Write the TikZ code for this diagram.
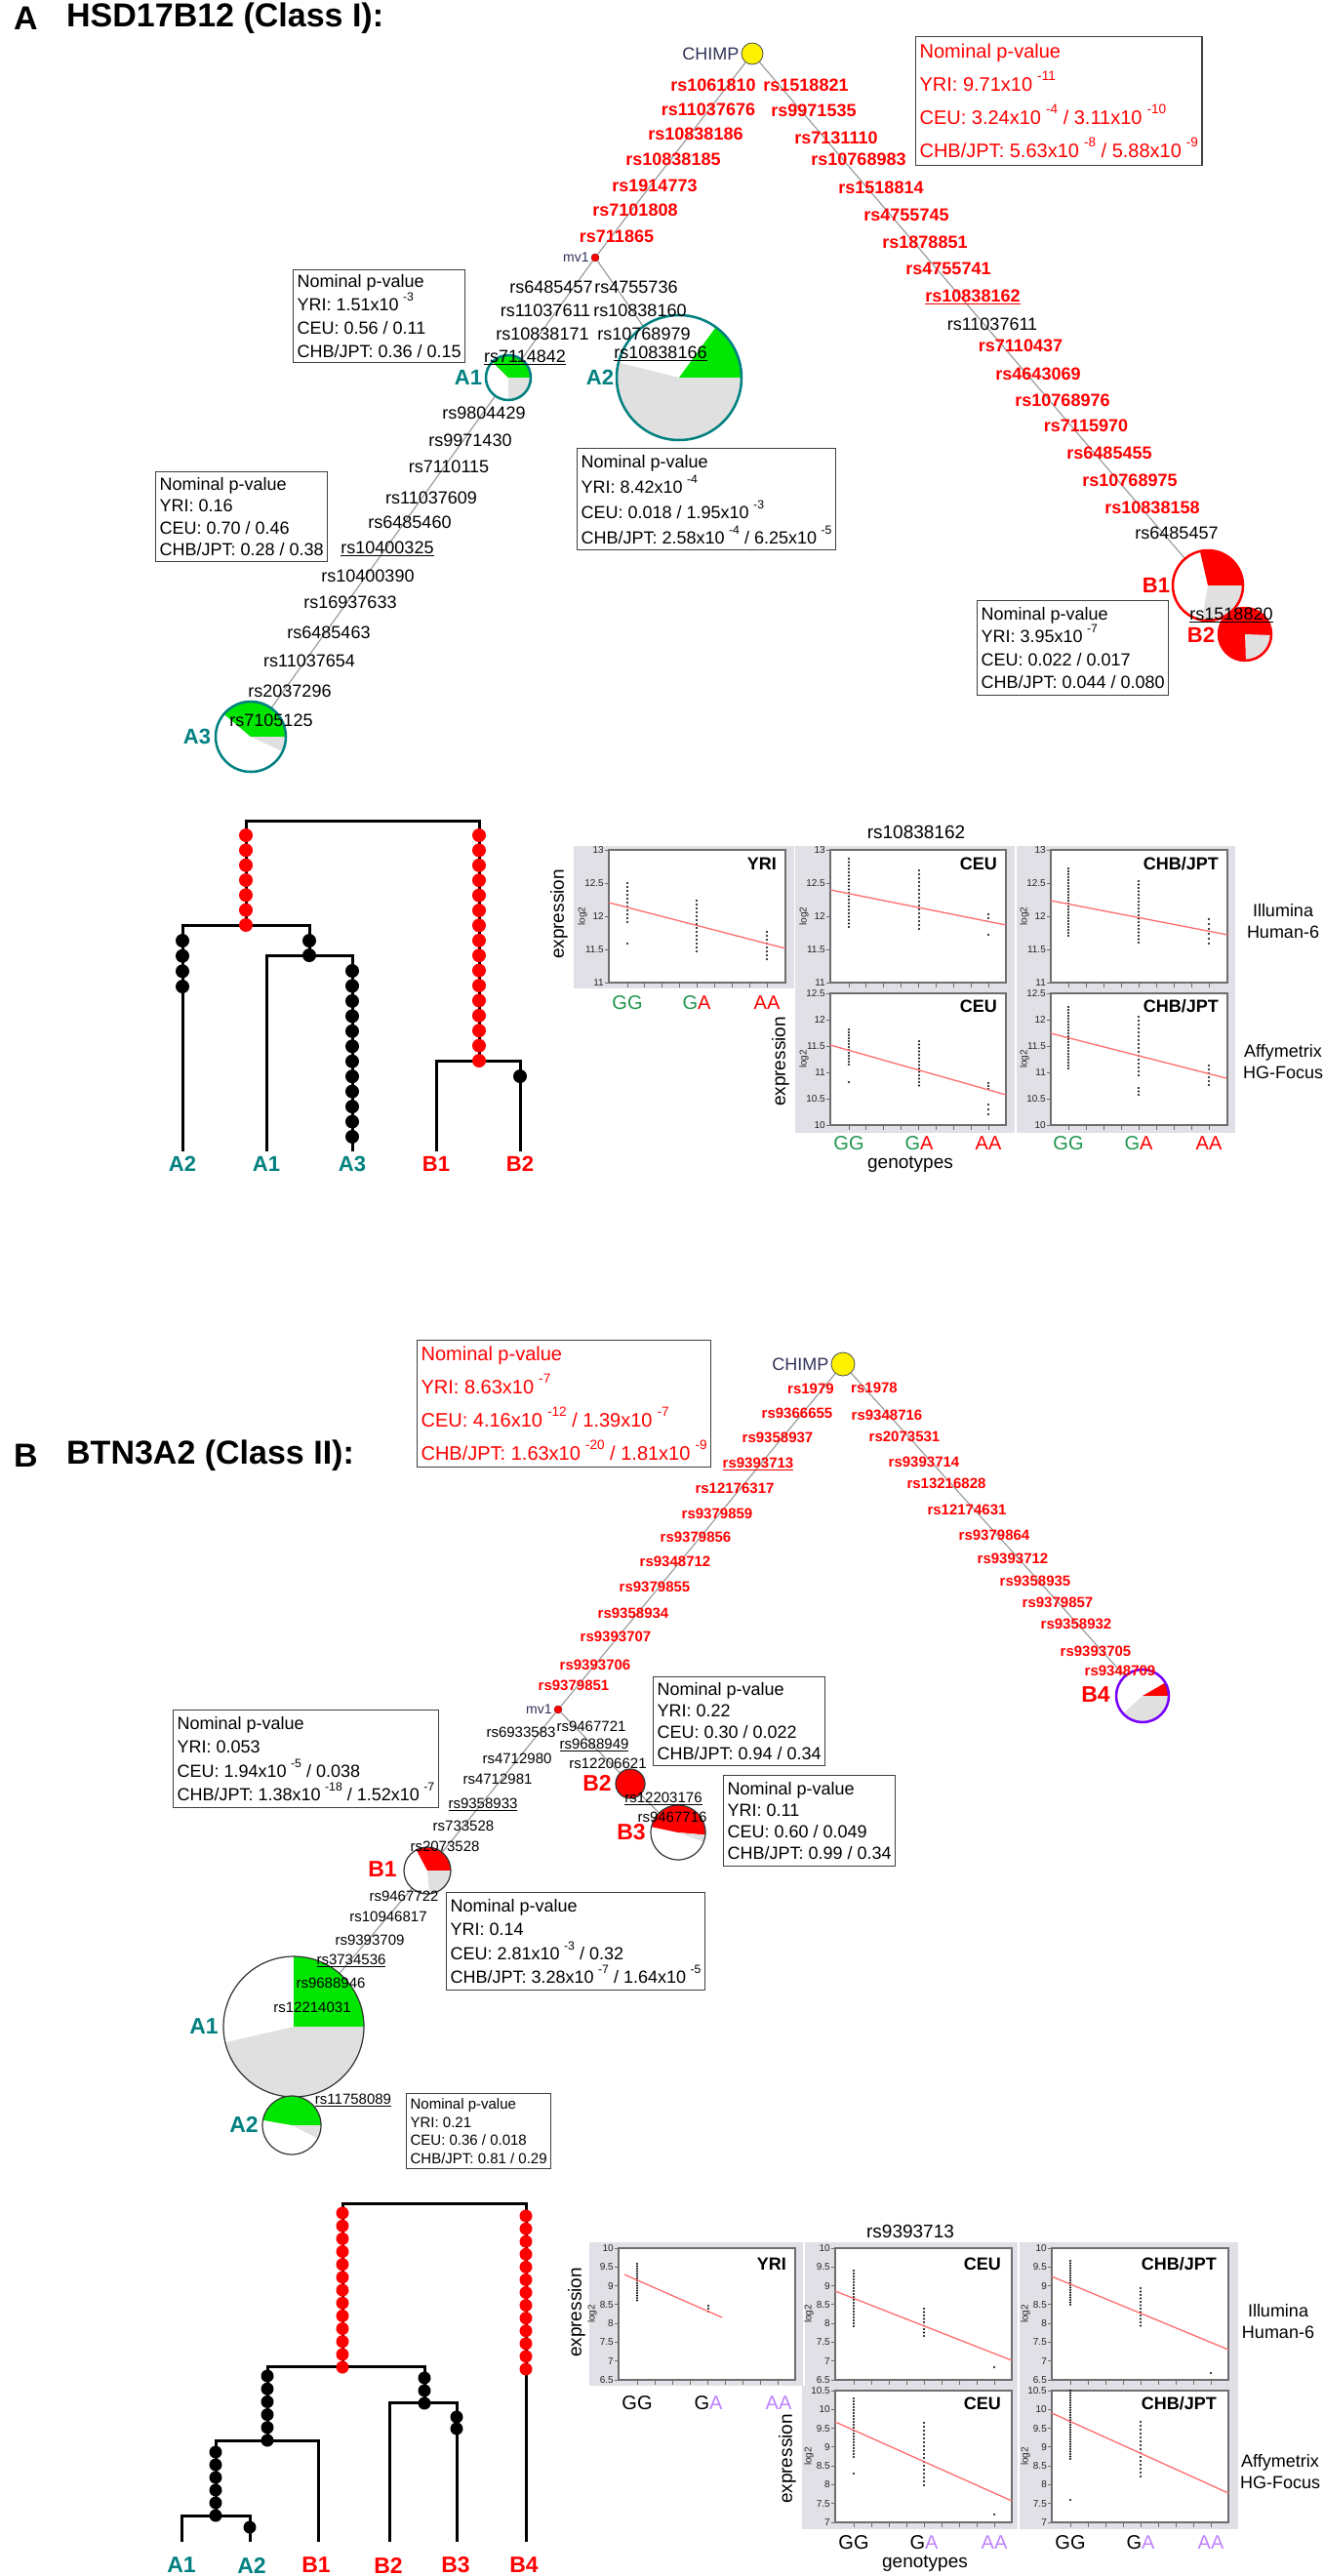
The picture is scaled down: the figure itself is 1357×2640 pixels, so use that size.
\documentclass[tikz,border=0pt]{standalone}
\usepackage{graphicx}
\usepackage{fontspec}
\setmainfont{Liberation Sans}
\definecolor{tealc}{RGB}{0,128,128}
\definecolor{pgreen}{RGB}{0,230,0}
\definecolor{pgray}{RGB}{224,224,224}
\definecolor{linkgray}{RGB}{150,150,150}
\definecolor{panelgray}{RGB}{224,224,230}
\definecolor{regline}{RGB}{255,110,110}
\definecolor{gtgreen}{RGB}{30,150,80}
\definecolor{gtpurple}{RGB}{190,130,255}
\definecolor{navytxt}{RGB}{50,50,90}
\definecolor{violetc}{RGB}{120,0,255}
\definecolor{framec}{RGB}{110,110,110}
\newcommand{\fsz}[1]{\fontsize{#1}{#1}\selectfont}
\newcommand{\pexp}[1]{\hspace{0.25em}\raisebox{0.55em}{\scalebox{0.68}{#1}}}
\newcommand{\pieslice}[5]{\fill[#1] (#2) -- ++(#3:#5) arc[start angle=#3, end angle=#4, radius=#5] -- cycle;}
\newcommand{\dotcol}[4]{\foreach \yy in {#2,#3,...,#4} \fill (#1,\yy) circle[radius=1.1];}
\newcommand{\panel}[8]{%
  \fill[panelgray] (#1,#2) rectangle (#3,#4);
  \fill[white] (#5,#6) rectangle (#7,#8);
  \draw[framec, line width=1.3] (#5,#6) rectangle (#7,#8);
  \node[ticklab, rotate=90] at ({#5-27},{(#6+#8)/2}) {log2};}
\newcommand{\xticks}[3]{\foreach \k in {0,...,8} \draw[framec, line width=0.9] ({#1+\k*#2},#3) -- ++(0,5);}
\newcommand{\yticks}[5]{\foreach \lab [count=\i from 0] in {#5} {%
  \pgfmathsetmacro{\yy}{#2+\i*(#3-#2)/#4}
  \draw[framec, line width=0.9] (#1,\yy) -- ++(-4,0);
  \node[ticklab, anchor=east] (yt\i) at ({#1-4},\yy) {\lab};}}
\newcommand{\gtA}[5]{\node[gt, text=gtgreen] (#1g) at (#2,#5) {GG};
  \node[gt] (#1h) at (#3,#5) {\textcolor{gtgreen}{G}\textcolor{red}{A}};
  \node[gt, text=red] (#1a) at (#4,#5) {AA};}
\newcommand{\gtB}[5]{\node[gt] (#1g) at (#2,#5) {GG};
  \node[gt] (#1h) at (#3,#5) {G\textcolor{gtpurple}{A}};
  \node[gt, text=gtpurple] (#1a) at (#4,#5) {AA};}

\begin{document}
\begin{tikzpicture}[x=1pt, y=-1pt,
  title/.style={font=\bfseries\fsz{34}, anchor=west, inner sep=0pt},
  redsnp/.style={text=red, font=\bfseries\fsz{18}, inner sep=0pt},
  blksnp/.style={font=\fsz{18}, inner sep=0pt},
  redsnpb/.style={text=red, font=\bfseries\fsz{15}, inner sep=0pt},
  blksnpb/.style={font=\fsz{15}, inner sep=0pt},
  hap/.style={circle, inner sep=0pt, outer sep=0pt},
  chimp/.style={circle, fill=yellow, draw=black!70, line width=0.8, inner sep=0pt},
  mvdot/.style={circle, fill=red, draw=red!50!black, minimum size=8pt, inner sep=0pt},
  navy/.style={text=navytxt, anchor=east, inner sep=2pt},
  link/.style={linkgray, line width=1.1},
  cladea/.style={text=tealc, font=\bfseries\fsz{22}, inner sep=0pt},
  cladeb/.style={text=red, font=\bfseries\fsz{22}, inner sep=0pt},
  pbox/.style={draw=black!75, line width=1.2, anchor=north west, align=left, inner xsep=4pt, inner ysep=2pt},
  treeline/.style={line width=3},
  ticklab/.style={font=\fsz{10}, inner sep=1pt, text=black!85},
  ptitle/.style={font=\bfseries\fsz{18}, anchor=east, inner sep=0pt},
  gt/.style={font=\fsz{20}, inner sep=0pt},
  axlab/.style={font=\fsz{19}, inner sep=0pt},
  platform/.style={font=\fontsize{18}{22}\selectfont, align=center, inner sep=0pt},
]
\fill[white] (0,0) rectangle (1357,2640);
\useasboundingbox (0,0) rectangle (1357,2640);

% ---------------- A
\node[title] (lettera) at (14,19) {A};
\node[title] (titlea) at (68,19) {HSD17B12 (Class I):};

\node[chimp, minimum size=22pt] (chimpa) at (771,55) {};
\node[mvdot] (mva) at (610,264) {};
\node[hap, minimum size=46pt] (hA1) at (521,387) {};
\node[hap, minimum size=128pt] (hA2) at (696,387) {};
\node[hap, minimum size=72pt] (hA3) at (257,755) {};
\node[hap, minimum size=72pt] (hB1) at (1238,600) {};
\node[hap, minimum size=54pt] (hB2) at (1276,650) {};

\draw[link] (chimpa) -- (mva);
\draw[link] (chimpa) -- (hB1);
\draw[link] (mva) -- (hA1);
\draw[link] (mva) -- (hA2);
\draw[link] (hA1) -- (hA3);

\pieslice{pgreen}{hA1.center}{-135}{0}{23}
\pieslice{pgray}{hA1.center}{0}{90}{23}
\draw[tealc, line width=2.5] (hA1.center) circle[radius=23];
\pieslice{pgreen}{hA2.center}{-54}{0}{64}
\pieslice{pgray}{hA2.center}{0}{194}{64}
\draw[tealc, line width=2.5] (hA2.center) circle[radius=64];
\pieslice{pgreen}{hA3.center}{-140}{0}{36}
\pieslice{pgray}{hA3.center}{0}{25}{36}
\draw[tealc, line width=2.5] (hA3.center) circle[radius=36];
\pieslice{red}{hB1.center}{-103}{0}{36}
\pieslice{pgray}{hB1.center}{0}{100}{36}
\draw[red, line width=2.5] (hB1.center) circle[radius=36];
\fill[red] (hB2.center) circle[radius=27];
\pieslice{pgray}{hB2.center}{2}{88}{27}
\draw[red, line width=2.5] (hB2.center) circle[radius=27];

\node[navy, font=\fsz{18}] (chimpatxt) at (chimpa.west) {CHIMP};
\node[navy, font=\fsz{14}] (mvatxt) at (mva.west) {mv1};

\foreach \x/\y/\t [count=\i] in {731/87/rs1061810, 726/112/rs11037676, 713/137/rs10838186,
  690/163/rs10838185, 671/190/rs1914773, 651/215/rs7101808, 632/242/rs711865}
  \node[redsnp] (al\i) at (\x,\y) {\t};
\foreach \x/\y/\t [count=\i] in {826/87/rs1518821, 834/113/rs9971535, 857/141/rs7131110,
  880/163/rs10768983, 903/192/rs1518814, 929/220/rs4755745, 948/248/rs1878851,
  972/275/rs4755741, 997/304/\underline{rs10838162}, 1046/354/rs7110437, 1064/383/rs4643069,
  1089/410/rs10768976, 1113/436/rs7115970, 1137/464/rs6485455, 1158/492/rs10768975,
  1181/520/rs10838158}
  \node[redsnp] (ar\i) at (\x,\y) {\t};
\node[blksnp] (ar17) at (1017,332) {rs11037611};
\node[blksnp] (ar18) at (1206,546) {rs6485457};
\foreach \x/\y/\t [count=\i] in {565/294/rs6485457, 652/294/rs4755736, 559/318/rs11037611,
  656/318/rs10838160, 556/342/rs10838171, 660/342/rs10768979, 538/366/\underline{rs7114842},
  677/362/\underline{rs10838166}, 496/423/rs9804429, 482/451/rs9971430, 460/478/rs7110115,
  442/510/rs11037609, 420/535/rs6485460, 397/562/\underline{rs10400325}, 377/590/rs10400390,
  359/617/rs16937633, 337/648/rs6485463, 317/677/rs11037654, 297/708/rs2037296,
  278/738/rs7105125, 1262/630/\underline{rs1518820}}
  \node[blksnp] (ab\i) at (\x,\y) {\t};

\node[cladea] (cA1) at (480,387) {A1};
\node[cladea] (cA2) at (615,387) {A2};
\node[cladea] (cA3) at (202,755) {A3};
\node[cladeb] (cB1) at (1185,600) {B1};
\node[cladeb] (cB2) at (1231,651) {B2};

\node[pbox, text=red, font=\fontsize{20}{34}\selectfont, minimum height=132pt] (pAred) at (938,37)
  {Nominal p-value\\YRI: 9.71x10\pexp{-11}\\CEU: 3.24x10\pexp{-4} / 3.11x10\pexp{-10}\\CHB/JPT: 5.63x10\pexp{-8} / 5.88x10\pexp{-9}};
\node[pbox, font=\fontsize{18}{24}\selectfont, minimum height=95pt] (pA1) at (300,276)
  {Nominal p-value\\YRI: 1.51x10\pexp{-3}\\CEU: 0.56 / 0.11\\CHB/JPT: 0.36 / 0.15};
\node[pbox, font=\fontsize{18}{26}\selectfont, minimum height=104pt] (pA2) at (591,459)
  {Nominal p-value\\YRI: 8.42x10\pexp{-4}\\CEU: 0.018 / 1.95x10\pexp{-3}\\CHB/JPT: 2.58x10\pexp{-4} / 6.25x10\pexp{-5}};
\node[pbox, font=\fontsize{18}{22.5}\selectfont, minimum height=92pt] (pA3) at (159,483)
  {Nominal p-value\\YRI: 0.16\\CEU: 0.70 / 0.46\\CHB/JPT: 0.28 / 0.38};
\node[pbox, font=\fontsize{18}{23.5}\selectfont, minimum height=97pt] (pB1) at (1001,615)
  {Nominal p-value\\YRI: 3.95x10\pexp{-7}\\CEU: 0.022 / 0.017\\CHB/JPT: 0.044 / 0.080};

% tree A
\draw[treeline] (252,948) -- (252,841) -- (491,841) -- (491,1087);
\draw[treeline] (187,1180) -- (187,948) -- (317,948) -- (317,979);
\draw[treeline] (273,1180) -- (273,979) -- (361,979) -- (361,1180);
\draw[treeline] (447,1180) -- (447,1087) -- (533,1087) -- (533,1180);
\foreach \k in {0,...,6} \fill[red] (252,{856+\k*15.33}) circle[radius=7];
\foreach \k in {0,...,15} \fill[red] (491,{856+\k*15.4}) circle[radius=7];
\foreach \k in {0,...,3} \fill (187,{964+\k*15.67}) circle[radius=7];
\foreach \k in {0,1} \fill (317,{964+\k*15}) circle[radius=7];
\foreach \k in {0,...,11} \fill (361,{995+\k*15.45}) circle[radius=7];
\fill (533,1103) circle[radius=7];
\node[cladea] (tA2) at (187,1193) {A2};
\node[cladea] (tA1) at (273,1193) {A1};
\node[cladea] (tA3) at (361,1193) {A3};
\node[cladeb] (tB1) at (447,1193) {B1};
\node[cladeb] (tB2) at (533,1193) {B2};

% plots A
\node[axlab] (snpa) at (939,853) {rs10838162};
\panel{588}{867}{814}{1013}{624}{871}{805}{1007}
\panel{815}{867}{1040}{1013}{851}{871}{1031}{1007}
\panel{1042}{867}{1266}{1013}{1077}{871}{1258}{1007}
\panel{815}{1013}{1040}{1161}{851}{1018}{1031}{1153}
\panel{1042}{1013}{1266}{1161}{1077}{1018}{1258}{1153}
\xticks{643}{17.9}{1007} \xticks{870}{17.9}{1007} \xticks{1095}{18}{1007}
\xticks{870}{17.9}{1153} \xticks{1095}{18}{1153}
\yticks{624}{871}{1007}{4}{13,12.5,12,11.5,11}
\yticks{851}{871}{1007}{4}{13,12.5,12,11.5,11}
\yticks{1077}{871}{1007}{4}{13,12.5,12,11.5,11}
\yticks{851}{1018}{1153}{5}{12.5,12,11.5,11,10.5,10}
\yticks{1077}{1018}{1153}{5}{12.5,12,11.5,11,10.5,10}
\dotcol{643}{905}{909}{945} \fill (643,967) circle[radius=1.1];
\dotcol{714}{923}{927}{977} \dotcol{786}{955}{959}{984}
\dotcol{870}{880}{883.5}{953} \dotcol{942}{892}{896}{955}
\fill (1013,937) circle[radius=1.1]; \fill (1013,941) circle[radius=1.1]; \fill (1013,958) circle[radius=1.1];
\dotcol{1095}{890}{893}{960} \dotcol{1167}{903}{906.5}{967} \dotcol{1239}{942}{947}{967}
\dotcol{870}{1055}{1058}{1092} \fill (870,1109) circle[radius=1.1];
\dotcol{942}{1067}{1070.5}{1115} \dotcol{1013}{1110}{1113}{1116} \dotcol{1013}{1132}{1137}{1142}
\dotcol{1095}{1032}{1035}{1097} \dotcol{1167}{1042}{1046}{1103} \dotcol{1167}{1115}{1118.5}{1122}
\dotcol{1239}{1092}{1096}{1115}
\draw[regline, line width=1.3] (624,925) -- (805,972);
\draw[regline, line width=1.3] (851,912) -- (1031,948);
\draw[regline, line width=1.3] (1077,923) -- (1258,958);
\draw[regline, line width=1.3] (851,1071) -- (1031,1122);
\draw[regline, line width=1.3] (1077,1059) -- (1257,1105);
\node[ptitle] (pya1) at (796,885) {YRI};
\node[ptitle] (pya2) at (1022,885) {CEU};
\node[ptitle] (pya3) at (1249,885) {CHB/JPT};
\node[ptitle] (pya4) at (1022,1031) {CEU};
\node[ptitle] (pya5) at (1249,1031) {CHB/JPT};
\gtA{gaa}{643}{714}{786}{1028}
\gtA{gab}{870}{942}{1013}{1172}
\gtA{gac}{1095}{1167}{1239}{1172}
\node[axlab] (gena) at (933,1193) {genotypes};
\node[axlab, rotate=90] (expa1) at (573,937) {expression};
\node[axlab, rotate=90] (expa2) at (800,1088) {expression};
\node[platform] (illa) at (1315,944) {Illumina\\Human-6};
\node[platform] (affa) at (1315,1088) {Affymetrix\\HG-Focus};

% ---------------- B
\node[title] (letterb) at (14,1492) {B};
\node[title] (titleb) at (68,1492) {BTN3A2 (Class II):};

\node[chimp, minimum size=24pt] (chimpb) at (864,1398) {};
\node[mvdot] (mvb) at (572,1752) {};
\node[hap, minimum size=54pt] (hbB4) at (1171,1738) {};
\node[hap, minimum size=30pt] (hbB2) at (646,1828) {};
\node[hap, minimum size=56pt] (hbB3) at (695,1878) {};
\node[hap, minimum size=48pt] (hbB1) at (438,1917) {};
\node[hap, minimum size=144pt] (hbA1) at (301,2077) {};
\node[hap, minimum size=60pt] (hbA2) at (299,2178) {};

\draw[link] (chimpb) -- (mvb);
\draw[link] (chimpb) -- (hbB4);
\draw[link] (mvb) -- (hbB2);
\draw[link] (hbB2) -- (hbB3);
\draw[link] (mvb) -- (hbB1);
\draw[link] (hbB1) -- (hbA1);

\pieslice{red}{hbB4.center}{-30}{0}{27}
\pieslice{pgray}{hbB4.center}{0}{138}{27}
\draw[violetc, line width=2.5] (hbB4.center) circle[radius=27];
\fill[red] (hbB2.center) circle[radius=15];
\draw[black!80, line width=1.2] (hbB2.center) circle[radius=15];
\pieslice{red}{hbB3.center}{-168}{5}{28}
\pieslice{pgray}{hbB3.center}{5}{20}{28}
\draw[black!80, line width=1.2] (hbB3.center) circle[radius=28];
\pieslice{red}{hbB1.center}{-118}{0}{24}
\pieslice{pgray}{hbB1.center}{0}{85}{24}
\draw[black!80, line width=1.2] (hbB1.center) circle[radius=24];
\pieslice{pgreen}{hbA1.center}{-90}{0}{72}
\pieslice{pgray}{hbA1.center}{0}{167}{72}
\draw[black!80, line width=1.2] (hbA1.center) circle[radius=72];
\pieslice{pgreen}{hbA2.center}{-170}{0}{30}
\pieslice{pgray}{hbA2.center}{0}{27}{30}
\draw[black!80, line width=1.2] (hbA2.center) circle[radius=30];

\node[navy, font=\fsz{18}] (chimpbtxt) at (chimpb.west) {CHIMP};
\node[navy, font=\fsz{14}] (mvbtxt) at (mvb.west) {mv1};

\foreach \x/\y/\t [count=\i] in {831/1423/rs1979, 817/1448/rs9366655, 797/1473/rs9358937,
  777/1500/\underline{rs9393713}, 753/1525/rs12176317, 735/1551/rs9379859, 713/1575/rs9379856,
  692/1600/rs9348712, 671/1626/rs9379855, 649/1653/rs9358934, 631/1677/rs9393707,
  610/1706/rs9393706, 588/1727/rs9379851,
  896/1422/rs1978, 909/1450/rs9348716, 927/1472/rs2073531, 947/1498/rs9393714,
  970/1520/rs13216828, 991/1547/rs12174631, 1019/1573/rs9379864, 1038/1597/rs9393712,
  1061/1620/rs9358935, 1084/1642/rs9379857, 1103/1664/rs9358932, 1123/1692/rs9393705,
  1148/1712/rs9348709}
  \node[redsnpb] (br\i) at (\x,\y) {\t};
\foreach \x/\y/\t [count=\i] in {534/1775/rs6933583, 606/1769/rs9467721, 609/1788/\underline{rs9688949},
  623/1807/rs12206621, 680/1843/\underline{rs12203176}, 689/1862/rs9467716, 530/1802/rs4712980,
  510/1823/rs4712981, 495/1849/\underline{rs9358933}, 475/1871/rs733528, 456/1892/rs2073528,
  414/1943/rs9467722, 398/1964/rs10946817, 379/1988/rs9393709, 360/2009/\underline{rs3734536},
  339/2032/rs9688946, 320/2057/rs12214031, 362/2152/\underline{rs11758089}}
  \node[blksnpb] (bb\i) at (\x,\y) {\t};

\node[cladeb, font=\bfseries\fsz{23}] (cbB2) at (612,1827) {B2};
\node[cladeb, font=\bfseries\fsz{23}] (cbB3) at (647,1878) {B3};
\node[cladeb, font=\bfseries\fsz{23}] (cbB1) at (392,1916) {B1};
\node[cladeb, font=\bfseries\fsz{23}] (cbB4) at (1123,1737) {B4};
\node[cladea, font=\bfseries\fsz{23}] (cbA1) at (209,2077) {A1};
\node[cladea, font=\bfseries\fsz{23}] (cbA2) at (250,2177) {A2};

\node[pbox, text=red, font=\fontsize{20}{34}\selectfont, minimum height=130pt] (pBred) at (427,1373)
  {Nominal p-value\\YRI: 8.63x10\pexp{-7}\\CEU: 4.16x10\pexp{-12} / 1.39x10\pexp{-7}\\CHB/JPT: 1.63x10\pexp{-20} / 1.81x10\pexp{-9}};
\node[pbox, font=\fontsize{18}{24.5}\selectfont, minimum height=100pt] (pbA1) at (177,1752)
  {Nominal p-value\\YRI: 0.053\\CEU: 1.94x10\pexp{-5} / 0.038\\CHB/JPT: 1.38x10\pexp{-18} / 1.52x10\pexp{-7}};
\node[pbox, font=\fontsize{18}{22}\selectfont, minimum height=91pt] (pbB2) at (669,1718)
  {Nominal p-value\\YRI: 0.22\\CEU: 0.30 / 0.022\\CHB/JPT: 0.94 / 0.34};
\node[pbox, font=\fontsize{18}{22}\selectfont, minimum height=93pt] (pbB3) at (741,1819)
  {Nominal p-value\\YRI: 0.11\\CEU: 0.60 / 0.049\\CHB/JPT: 0.99 / 0.34};
\node[pbox, font=\fontsize{18}{24.5}\selectfont, minimum height=100pt] (pbB1) at (457,1939)
  {Nominal p-value\\YRI: 0.14\\CEU: 2.81x10\pexp{-3} / 0.32\\CHB/JPT: 3.28x10\pexp{-7} / 1.64x10\pexp{-5}};
\node[pbox, font=\fontsize{15}{18.7}\selectfont, minimum height=77pt] (pbA2) at (416,2145)
  {Nominal p-value\\YRI: 0.21\\CEU: 0.36 / 0.018\\CHB/JPT: 0.81 / 0.29};

% tree B
\draw[treeline] (351,2425) -- (351,2258) -- (539,2258) -- (539,2605);
\draw[treeline] (274,2501) -- (274,2425) -- (435,2425) -- (435,2462);
\draw[treeline] (221,2578) -- (221,2501) -- (326,2501) -- (326,2605);
\draw[treeline] (186,2605) -- (186,2578) -- (256,2578) -- (256,2605);
\draw[treeline] (399,2605) -- (399,2462) -- (468,2462) -- (468,2605);
\foreach \k in {0,...,12} \fill[red] (351,{2268+\k*13.17}) circle[radius=6.5];
\foreach \k in {0,...,12} \fill[red] (539,{2271+\k*13.08}) circle[radius=6.5];
\foreach \k in {0,...,5} \fill (274,{2435+\k*13.2}) circle[radius=6.5];
\foreach \k in {0,...,5} \fill (221,{2513+\k*13}) circle[radius=6.5];
\fill (256,2590) circle[radius=6.5];
\foreach \k in {0,...,2} \fill (435,{2437+\k*13}) circle[radius=6.5];
\foreach \k in {0,1} \fill (468,{2477+\k*12}) circle[radius=6.5];
\node[cladea, font=\bfseries\fsz{23}] (tbA1) at (186,2629) {A1};
\node[cladea, font=\bfseries\fsz{23}] (tbA2) at (258,2629) {A2};
\node[cladeb, font=\bfseries\fsz{23}] (tbB1) at (324,2629) {B1};
\node[cladeb, font=\bfseries\fsz{23}] (tbB2) at (398,2629) {B2};
\node[cladeb, font=\bfseries\fsz{23}] (tbB3) at (467,2629) {B3};
\node[cladeb, font=\bfseries\fsz{23}] (tbB4) at (537,2629) {B4};

% plots B
\node[axlab] (snpb) at (933,2287) {rs9393713};
\panel{604}{2298}{823}{2445}{634}{2304}{815}{2439}
\panel{825}{2298}{1043}{2445}{856}{2304}{1037}{2439}
\panel{1045}{2298}{1269}{2445}{1078}{2304}{1259}{2439}
\panel{822}{2445}{1043}{2592}{856}{2450}{1037}{2585}
\panel{1045}{2445}{1269}{2592}{1078}{2450}{1259}{2585}
\xticks{653}{18.1}{2439} \xticks{875}{18}{2439} \xticks{1097}{18}{2439}
\xticks{875}{18}{2585} \xticks{1097}{18}{2585}
\yticks{634}{2304}{2439}{7}{10,9.5,9,8.5,8,7.5,7,6.5}
\yticks{856}{2304}{2439}{7}{10,9.5,9,8.5,8,7.5,7,6.5}
\yticks{1078}{2304}{2439}{7}{10,9.5,9,8.5,8,7.5,7,6.5}
\yticks{856}{2450}{2585}{7}{10.5,10,9.5,9,8.5,8,7.5,7}
\yticks{1078}{2450}{2585}{7}{10.5,10,9.5,9,8.5,8,7.5,7}
\dotcol{653}{2320}{2322.5}{2358} \dotcol{726}{2363}{2366}{2371}
\dotcol{875}{2327}{2330}{2386} \dotcol{947}{2366}{2369.5}{2395} \fill (1019,2426) circle[radius=1.1];
\dotcol{1097}{2317}{2319.5}{2364} \dotcol{1169}{2345}{2348.5}{2384} \fill (1241,2432) circle[radius=1.1];
\dotcol{875}{2458}{2461}{2520} \fill (875,2535) circle[radius=1.1];
\dotcol{947}{2483}{2487}{2548} \fill (1019,2577) circle[radius=1.1];
\dotcol{1097}{2450}{2452.5}{2522} \fill (1097,2562) circle[radius=1.1];
\dotcol{1169}{2482}{2486}{2540}
\draw[regline, line width=1.3] (640,2331) -- (740,2375);
\draw[regline, line width=1.3] (856,2348) -- (1037,2419);
\draw[regline, line width=1.3] (1078,2333) -- (1259,2408);
\draw[regline, line width=1.3] (856,2482) -- (1037,2563);
\draw[regline, line width=1.3] (1078,2473) -- (1259,2555);
\node[ptitle] (pyb1) at (806,2320) {YRI};
\node[ptitle] (pyb2) at (1026,2320) {CEU};
\node[ptitle] (pyb3) at (1247,2320) {CHB/JPT};
\node[ptitle] (pyb4) at (1026,2463) {CEU};
\node[ptitle] (pyb5) at (1247,2463) {CHB/JPT};
\gtB{gba}{653}{726}{798}{2463}
\gtB{gbb}{875}{947}{1019}{2606}
\gtB{gbc}{1097}{1169}{1241}{2606}
\node[axlab] (genb) at (948,2627) {genotypes};
\node[axlab, rotate=90] (expb1) at (591,2370) {expression};
\node[axlab, rotate=90] (expb2) at (807,2520) {expression};
\node[platform] (illb) at (1310,2379) {Illumina\\Human-6};
\node[platform] (affb) at (1312,2533) {Affymetrix\\HG-Focus};
\end{tikzpicture}
\end{document}
